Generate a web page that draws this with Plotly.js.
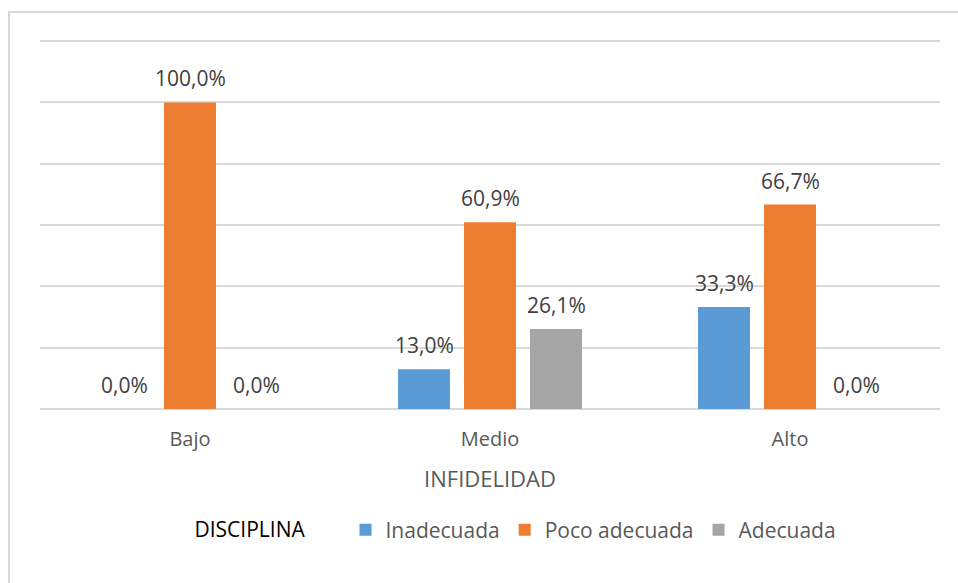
<!DOCTYPE html>
<html>
<head>
<meta charset="utf-8">
<script src="https://cdn.plot.ly/plotly-3.0.1.min.js"></script>
<style>
html,body{margin:0;padding:0;background:#fff;overflow:hidden;}
#chart{width:958px;height:583px;}
</style>
</head>
<body>
<div id="chart"></div>
<script>
const categories = ["Bajo", "Medio", "Alto"];
const seriesNames = ["Inadecuada", "Poco adecuada", "Adecuada"];
const inadecuada = [0.0, 13.0, 33.3];
const pocoAdecuada = [100.0, 60.9, 66.7];
const adecuada = [0.0, 26.1, 0.0];
const colors = ["#5B9BD5", "#ED7D31", "#A5A5A5"];
const seriesValues = [inadecuada, pocoAdecuada, adecuada];

const FONT = "'Open Sans', 'Noto Sans', sans-serif";
const fmt = v => v.toFixed(1).replace('.', ',') + '%';

const traces = seriesValues.map((vals, i) => ({
  type: 'bar',
  name: seriesNames[i],
  x: categories,
  y: vals,
  marker: {color: colors[i]},
  hoverinfo: 'none'
}));

const annotations = [];
seriesValues.forEach((vals, i) => {
  vals.forEach((v, j) => {
    annotations.push({
      x: categories[j], y: v, xref: 'x', yref: 'y',
      text: fmt(v), showarrow: false,
      xshift: (i - 1) * 66, yshift: 24, yanchor: 'middle',
      font: {family: FONT, size: 21, color: '#404040'}
    });
  });
});

const PLOT_H = 374;
const layout = {
  width: 958, height: 583,
  margin: {l: 40, r: 18, t: 35, b: 174},
  paper_bgcolor: '#fff', plot_bgcolor: '#fff',
  font: {family: FONT, size: 20, color: '#595959'},
  barmode: 'group',
  bargap: 0.34,
  bargroupgap: 0.212,
  showlegend: true,
  xaxis: {
    type: 'category',
    showgrid: false, showline: false, zeroline: false,
    ticks: '', ticklabelstandoff: 16,
    tickfont: {family: FONT, size: 20, color: '#595959'},
    title: {text: 'INFIDELIDAD', font: {family: FONT, size: 22, color: '#595959'}, standoff: 20}
  },
  yaxis: {
    range: [0, 122], dtick: 20, tick0: 0,
    showgrid: true, gridcolor: '#d9d9d9', gridwidth: 2,
    zeroline: true, zerolinecolor: '#d9d9d9', zerolinewidth: 2,
    showticklabels: false, ticks: '', showline: false
  },
  legend: {
    orientation: 'h',
    x: 0.53, xanchor: 'center',
    y: -121 / PLOT_H, yanchor: 'middle',
    font: {family: FONT, size: 21, color: '#595959'},
    title: {text: 'DISCIPLINA      ', side: 'left', font: {family: FONT, size: 21, color: '#000'}},
    itemwidth: 30,
    traceorder: 'normal'
  },
  annotations: annotations,
  shapes: [{
    type: 'rect', xref: 'paper', yref: 'paper',
    x0: -31/900, x1: 1.05, y0: -0.7, y1: 1 + 23/PLOT_H,
    line: {color: '#d9d9d9', width: 2}, fillcolor: 'rgba(0,0,0,0)', layer: 'below'
  }]
};

Plotly.newPlot('chart', traces, layout, {displayModeBar: false, staticPlot: true});
</script>
</body>
</html>
